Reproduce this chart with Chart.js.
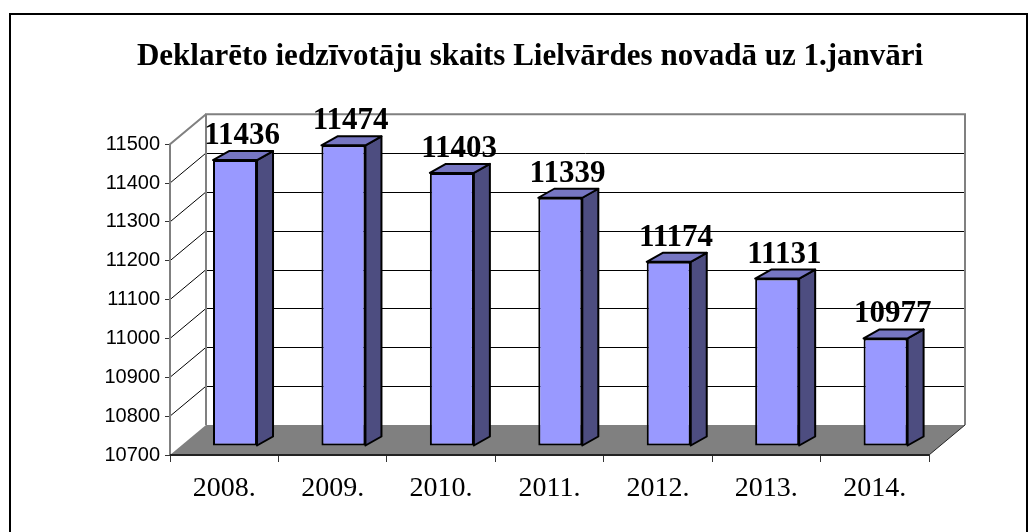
<!DOCTYPE html>
<html><head><meta charset="utf-8">
<script src="https://cdn.jsdelivr.net/npm/chart.js@4/dist/chart.umd.min.js"></script>
<style>html,body{margin:0;padding:0;background:#fff;}</style>
</head><body>
<canvas id="c" width="1032" height="532"></canvas>
<script>
const categories = ['2008.','2009.','2010.','2011.','2012.','2013.','2014.'];
const residents = [11436, 11474, 11403, 11339, 11174, 11131, 10977];
const yTicks = [10700, 10800, 10900, 11000, 11100, 11200, 11300, 11400, 11500];
const chartTitle = 'Deklarēto iedzīvotāju skaits Lielvārdes novadā uz 1.janvāri';

const yMin = yTicks[0], yMax = yTicks[yTicks.length - 1];
const depth = {dx: 36, dy: -30};
const barShift = {dx: 10.8, dy: -9};
const barDepth = {dx: 16, dy: -9};

const threeD = {
  id: 'threeD',
  beforeDraw(chart) {
    const ctx = chart.ctx;
    ctx.save();
    ctx.strokeStyle = '#000'; ctx.lineWidth = 2;
    ctx.strokeRect(10, 14, 1017, 540);
    ctx.restore();
  },
  beforeDatasetsDraw(chart) {
    const {ctx, chartArea: a, scales: {y}} = chart;
    ctx.save();
    ctx.lineWidth = 1; ctx.strokeStyle = '#000';
    yTicks.forEach(v => {
      const fy = y.getPixelForValue(v);
      if (v !== yMin && v !== yMax) {
        const by = Math.round(fy + depth.dy) + 0.5;
        ctx.beginPath(); ctx.moveTo(a.left + depth.dx, by); ctx.lineTo(a.right + depth.dx, by); ctx.stroke();
        ctx.beginPath(); ctx.moveTo(a.left, fy); ctx.lineTo(a.left + depth.dx, fy + depth.dy); ctx.stroke();
      }
    });
    const fb = y.getPixelForValue(yMin);
    ctx.fillStyle = '#808080';
    ctx.beginPath();
    ctx.moveTo(a.left, fb); ctx.lineTo(a.right, fb);
    ctx.lineTo(a.right + depth.dx, fb + depth.dy); ctx.lineTo(a.left + depth.dx, fb + depth.dy);
    ctx.closePath(); ctx.fill();
    const ft = y.getPixelForValue(yMax);
    ctx.strokeStyle = '#808080'; ctx.lineWidth = 2;
    ctx.beginPath();
    ctx.moveTo(a.left + depth.dx, fb + depth.dy); ctx.lineTo(a.left + depth.dx, ft + depth.dy);
    ctx.lineTo(a.right + depth.dx, ft + depth.dy); ctx.lineTo(a.right + depth.dx, fb + depth.dy);
    ctx.stroke();
    ctx.beginPath();
    ctx.moveTo(a.left, fb); ctx.lineTo(a.left, ft); ctx.lineTo(a.left + depth.dx, ft + depth.dy);
    ctx.stroke();
    ctx.strokeStyle = '#222'; ctx.lineWidth = 2;
    ctx.beginPath(); ctx.moveTo(a.left, fb); ctx.lineTo(a.right, fb); ctx.stroke();
    ctx.lineWidth = 1;
    ctx.beginPath(); ctx.moveTo(a.right, fb); ctx.lineTo(a.right + depth.dx, fb + depth.dy); ctx.stroke();
    ctx.restore();
    ctx.save();
    ctx.translate(barShift.dx, barShift.dy);
  },
  afterDatasetsDraw(chart) {
    const ctx = chart.ctx;
    ctx.restore();
    const meta = chart.getDatasetMeta(0);
    ctx.save();
    ctx.lineWidth = 2; ctx.strokeStyle = '#000'; ctx.lineJoin = 'round';
    meta.data.forEach((bar, i) => {
      const p = bar.getProps(['x', 'y', 'base', 'width'], true);
      const l = p.x - p.width / 2 + barShift.dx, r = p.x + p.width / 2 + barShift.dx;
      const t = p.y + barShift.dy, b = p.base + barShift.dy;
      ctx.fillStyle = '#4D4D80';
      ctx.beginPath();
      ctx.moveTo(r, t); ctx.lineTo(r + barDepth.dx, t + barDepth.dy);
      ctx.lineTo(r + barDepth.dx, b + barDepth.dy); ctx.lineTo(r, b); ctx.closePath();
      ctx.fill(); ctx.stroke();
      ctx.fillStyle = '#7676C2';
      ctx.beginPath();
      ctx.moveTo(l, t); ctx.lineTo(r, t);
      ctx.lineTo(r + barDepth.dx, t + barDepth.dy); ctx.lineTo(l + barDepth.dx, t + barDepth.dy); ctx.closePath();
      ctx.fill(); ctx.stroke();
      ctx.fillStyle = '#000';
      ctx.font = 'bold 31px "Liberation Serif", "Times New Roman", serif';
      ctx.textAlign = 'center'; ctx.textBaseline = 'alphabetic';
      ctx.fillText(String(residents[i]), p.x + 18, p.y - 25);
    });
    ctx.restore();
  }
};

new Chart(document.getElementById('c'), {
  type: 'bar',
  data: {
    labels: categories,
    datasets: [{
      data: residents,
      base: yMin,
      backgroundColor: '#9999FF',
      borderColor: '#000',
      borderWidth: 2,
      borderSkipped: false,
      categoryPercentage: 1,
      barPercentage: 0.406,
      clip: false
    }]
  },
  options: {
    responsive: false,
    animation: false,
    devicePixelRatio: 1,
    layout: {padding: {left: 10, right: -18, top: 0, bottom: 0}},
    plugins: {
      legend: {display: false},
      tooltip: {enabled: false},
      title: {
        display: true,
        text: chartTitle,
        color: '#000',
        font: {family: '"Liberation Serif", "Times New Roman", serif', size: 31, weight: 'bold', lineHeight: 1.2},
        padding: {top: 38, bottom: 69}
      }
    },
    scales: {
      x: {
        offset: true,
        grid: {display: true, offset: true, drawOnChartArea: false, drawTicks: true, tickLength: 7, color: '#333', lineWidth: 1},
        border: {display: false},
        ticks: {color: '#000', padding: 10, font: {family: '"Liberation Serif", "Times New Roman", serif', size: 28}},
        afterFit: s => { s.height = 77; }
      },
      y: {
        min: yMin, max: yMax,
        afterBuildTicks: s => { s.ticks = yTicks.map(v => ({value: v})); },
        grid: {display: true, drawOnChartArea: false, drawTicks: true, tickLength: 5, color: '#333', lineWidth: 1},
        border: {display: false},
        ticks: {color: '#000', padding: 5, callback: v => String(v), font: {family: '"Liberation Sans", Arial, sans-serif', size: 20}},
        afterFit: s => { s.width = 160; }
      },
      yRight: {
        position: 'right',
        display: true,
        min: yMin, max: yMax,
        grid: {display: false, drawTicks: false},
        border: {display: false},
        ticks: {display: false},
        afterFit: s => { s.width = 121; }
      }
    }
  },
  plugins: [threeD]
});
</script>
</body></html>
